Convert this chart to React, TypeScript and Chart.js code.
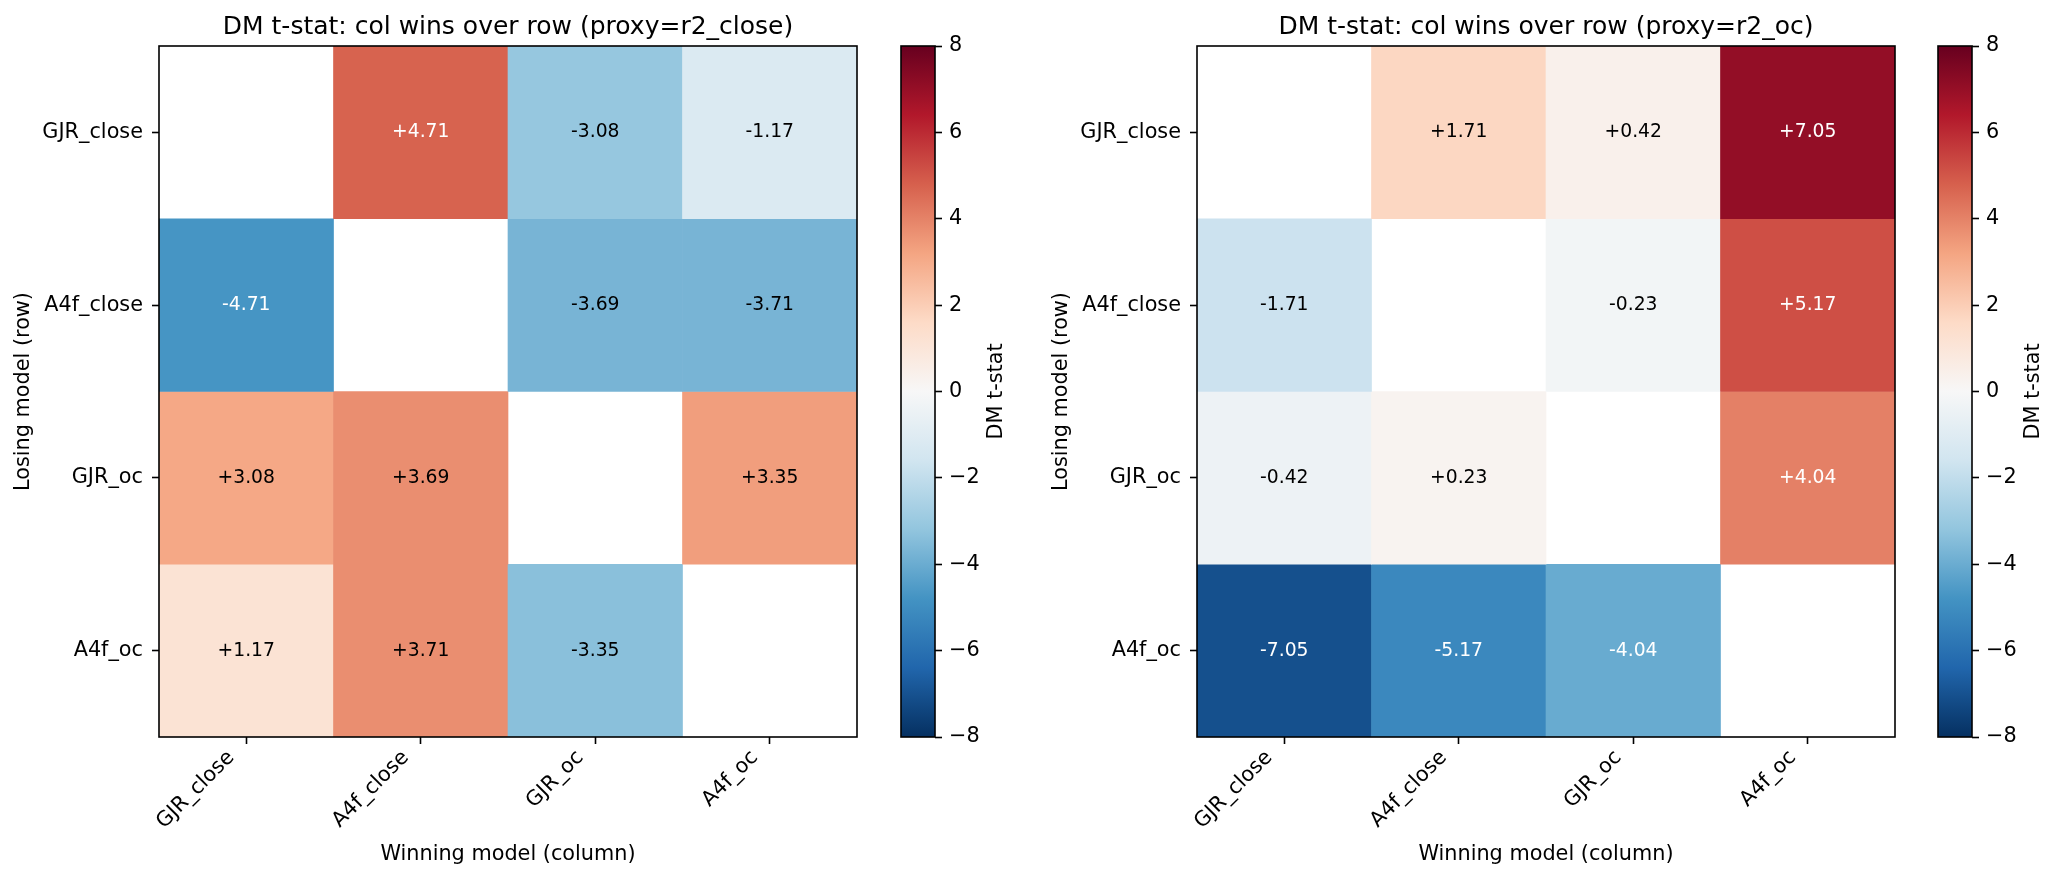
import React, { useEffect, useRef } from 'react';
import { Chart, registerables } from 'chart.js';

Chart.register(...registerables);

// ---------------- data ----------------
const MODELS = ['GJR_close', 'A4f_close', 'GJR_oc', 'A4f_oc'];
const ROW_AXIS_TITLE = 'Losing model (row)';
const COL_AXIS_TITLE = 'Winning model (column)';
const CBAR_LABEL = 'DM t-stat';
const CBAR_TICKS = [-8, -6, -4, -2, 0, 2, 4, 6, 8];
const VMIN = -8;
const VMAX = 8;

const TITLE_CLOSE = 'DM t-stat: col wins over row (proxy=r2_close)';
const CLOSE_ROW_GJR_CLOSE = [null, 4.71, -3.08, -1.17];
const CLOSE_ROW_A4F_CLOSE = [-4.71, null, -3.69, -3.71];
const CLOSE_ROW_GJR_OC = [3.08, 3.69, null, 3.35];
const CLOSE_ROW_A4F_OC = [1.17, 3.71, -3.35, null];

const TITLE_OC = 'DM t-stat: col wins over row (proxy=r2_oc)';
const OC_ROW_GJR_CLOSE = [null, 1.71, 0.42, 7.05];
const OC_ROW_A4F_CLOSE = [-1.71, null, -0.23, 5.17];
const OC_ROW_GJR_OC = [-0.42, 0.23, null, 4.04];
const OC_ROW_A4F_OC = [-7.05, -5.17, -4.04, null];

// RdBu_r colormap stops (low -> high)
const RDBU_R = ['#053061', '#2166ac', '#4393c3', '#92c5de', '#d1e5f0', '#f7f7f7', '#fddbc7', '#f4a582', '#d6604d', '#b2182b', '#67001f'];

// ---------------- helpers ----------------
const FONT = 'DejaVu Sans';
const TICK_PX = 20.8;
const TITLE_PX = 25;
const ANNOT_PX = 18.75;

function hexToRgb(h: string) {
  const n = parseInt(h.slice(1), 16);
  return [(n >> 16) & 255, (n >> 8) & 255, n & 255];
}

function cmap(v: number) {
  const t = Math.min(1, Math.max(0, (v - VMIN) / (VMAX - VMIN)));
  const idx = Math.min(255, Math.floor(t * 256));
  const s = (idx / 255) * (RDBU_R.length - 1);
  const i = Math.min(RDBU_R.length - 2, Math.floor(s));
  const f = s - i;
  const a = hexToRgb(RDBU_R[i]);
  const b = hexToRgb(RDBU_R[i + 1]);
  const c = a.map((x, k) => Math.round(x + (b[k] - x) * f));
  return `rgb(${c[0]},${c[1]},${c[2]})`;
}

function fmt(v: number) {
  return (v > 0 ? '+' : '') + v.toFixed(2);
}

const framePlugin = {
  id: 'frame',
  afterDraw(chart: any) {
    const { ctx, chartArea } = chart;
    ctx.save();
    ctx.strokeStyle = '#000';
    ctx.lineWidth = 1.6;
    ctx.strokeRect(chartArea.left, chartArea.top, chartArea.right - chartArea.left, chartArea.bottom - chartArea.top);
    ctx.restore();
  },
};

const annotatePlugin = {
  id: 'annot',
  afterDatasetsDraw(chart: any) {
    const ctx = chart.ctx;
    ctx.save();
    ctx.font = `${ANNOT_PX}px "${FONT}"`;
    ctx.textAlign = 'center';
    ctx.textBaseline = 'middle';
    chart.data.datasets.forEach((ds: any, di: number) => {
      const meta = chart.getDatasetMeta(di);
      meta.data.forEach((el: any, ci: number) => {
        const v = ds.cellValues[ci];
        if (v == null) return;
        const p = el.getCenterPoint();
        ctx.fillStyle = Math.abs(v) > 4 ? '#ffffff' : '#000000';
        ctx.fillText(fmt(v), p.x, p.y);
      });
    });
    ctx.restore();
  },
};

const gradientPlugin = {
  id: 'cbarGradient',
  beforeDatasetsDraw(chart: any) {
    const { ctx, chartArea } = chart;
    const y = chart.scales.y;
    const g = ctx.createLinearGradient(0, y.getPixelForValue(VMIN), 0, y.getPixelForValue(VMAX));
    RDBU_R.forEach((c, i) => g.addColorStop(i / (RDBU_R.length - 1), c));
    ctx.save();
    ctx.fillStyle = g;
    ctx.fillRect(chartArea.left, chartArea.top, chartArea.right - chartArea.left, chartArea.bottom - chartArea.top);
    ctx.restore();
  },
  afterDraw(chart: any) {
    const { ctx, chartArea } = chart;
    ctx.save();
    ctx.font = `${TICK_PX}px "${FONT}"`;
    ctx.fillStyle = '#000';
    ctx.textAlign = 'center';
    ctx.textBaseline = 'middle';
    ctx.translate(chartArea.right + 62, (chartArea.top + chartArea.bottom) / 2);
    ctx.rotate(-Math.PI / 2);
    ctx.fillText(CBAR_LABEL, 0, 0);
    ctx.restore();
  },
};

const tickGrid = {
  offset: false,
  drawOnChartArea: false,
  drawTicks: true,
  tickLength: 7,
  tickColor: '#000',
  tickWidth: 1.6,
};

function heatmapConfig(title: string, rows: (number | null)[][], yAxisWidth: number, yTitlePad: number, padRight: number): any {
  return {
    type: 'bar',
    data: {
      labels: MODELS,
      datasets: rows.map((vals, r) => ({
        label: MODELS[r],
        data: vals.map((v) => (v == null ? null : [r, r + 1])),
        cellValues: vals,
        backgroundColor: vals.map((v) => (v == null ? 'rgba(0,0,0,0)' : cmap(v))),
        borderWidth: 0,
        grouped: false,
        barPercentage: 1,
        categoryPercentage: 1,
      })),
    },
    options: {
      animation: false,
      responsive: false,
      events: [],
      layout: { padding: { left: 0, right: padRight, top: 0, bottom: 0 } },
      plugins: {
        legend: { display: false },
        tooltip: { enabled: false },
        title: {
          display: true,
          text: title,
          fullSize: false,
          color: '#000',
          font: { family: FONT, size: TITLE_PX, weight: 'normal', lineHeight: 1.2 },
          padding: { top: 12, bottom: 4 },
        },
      },
      scales: {
        x: {
          type: 'category',
          offset: true,
          grid: tickGrid,
          border: { display: false },
          ticks: {
            color: '#000',
            font: { family: FONT, size: TICK_PX },
            minRotation: 45,
            maxRotation: 45,
            autoSkip: false,
            padding: 1.5,
            labelOffset: -15,
          },
          title: {
            display: true,
            text: COL_AXIS_TITLE,
            color: '#000',
            font: { family: FONT, size: TICK_PX },
            padding: { top: 0, bottom: 14.5 },
          },
          afterFit: (s: any) => {
            s.height = 145;
          },
        },
        y: {
          type: 'linear',
          min: 0,
          max: MODELS.length,
          reverse: true,
          grid: tickGrid,
          border: { display: false },
          afterBuildTicks: (s: any) => {
            s.ticks = MODELS.map((_, i) => ({ value: i + 0.5 }));
          },
          ticks: {
            color: '#000',
            font: { family: FONT, size: TICK_PX },
            padding: 9,
            callback: (_v: any, i: number) => MODELS[i],
          },
          title: {
            display: true,
            text: ROW_AXIS_TITLE,
            color: '#000',
            font: { family: FONT, size: TICK_PX },
            padding: { top: yTitlePad, bottom: 0 },
          },
          afterFit: (s: any) => {
            s.width = yAxisWidth;
          },
        },
      },
    },
    plugins: [annotatePlugin, framePlugin],
  };
}

function colorbarConfig(padLeft: number, axisWidth: number): any {
  return {
    type: 'scatter',
    data: { datasets: [] },
    options: {
      animation: false,
      responsive: false,
      events: [],
      layout: { padding: { left: padLeft, right: 0, top: 46, bottom: 145 } },
      plugins: { legend: { display: false }, tooltip: { enabled: false }, title: { display: false } },
      scales: {
        x: { display: false, min: 0, max: 1 },
        y: {
          type: 'linear',
          position: 'right',
          min: VMIN,
          max: VMAX,
          grid: tickGrid,
          border: { display: false },
          afterBuildTicks: (s: any) => {
            s.ticks = CBAR_TICKS.map((v) => ({ value: v }));
          },
          ticks: {
            color: '#000',
            font: { family: FONT, size: TICK_PX },
            padding: 7,
            callback: (v: any) => (v < 0 ? '\u2212' + Math.abs(v) : String(v)),
          },
          afterFit: (s: any) => {
            s.width = axisWidth;
          },
        },
      },
    },
    plugins: [gradientPlugin, framePlugin],
  };
}

function ChartCanvas({ config, left, width }: { config: () => any; left: number; width: number }) {
  const ref = useRef<HTMLCanvasElement | null>(null);
  useEffect(() => {
    if (!ref.current) return;
    const chart = new Chart(ref.current, config());
    return () => chart.destroy();
  }, []);
  return (
    <canvas
      ref={ref}
      width={width}
      height={882}
      style={{ position: 'absolute', left, top: 0, width, height: 882 }}
    />
  );
}

export default function App() {
  const closeRows = [CLOSE_ROW_GJR_CLOSE, CLOSE_ROW_A4F_CLOSE, CLOSE_ROW_GJR_OC, CLOSE_ROW_A4F_OC];
  const ocRows = [OC_ROW_GJR_CLOSE, OC_ROW_A4F_CLOSE, OC_ROW_GJR_OC, OC_ROW_A4F_OC];
  return (
    <div style={{ position: 'absolute', left: 0, top: 0, width: 2061, height: 882, background: '#fff', overflow: 'hidden' }}>
      <ChartCanvas left={0} width={880} config={() => heatmapConfig(TITLE_CLOSE, closeRows, 159, 11.5, 23)} />
      <ChartCanvas left={880} width={150} config={() => colorbarConfig(21, 95)} />
      <ChartCanvas left={1030} width={880} config={() => heatmapConfig(TITLE_OC, ocRows, 167, 19.2, 15)} />
      <ChartCanvas left={1910} width={151} config={() => colorbarConfig(28, 89)} />
    </div>
  );
}
